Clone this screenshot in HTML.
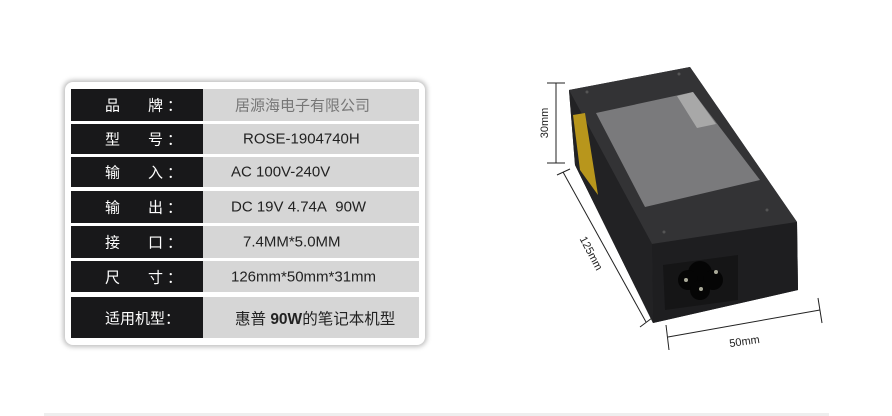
<!DOCTYPE html>
<html><head><meta charset="utf-8"><style>
body{margin:0;width:892px;height:416px;background:#fff;position:relative;overflow:hidden;font-family:"Liberation Sans","Noto Sans CJK SC",sans-serif}
.box{position:absolute;left:65px;top:82px;width:360px;height:263px;background:#fff;border-radius:8px;box-shadow:0 0 5px 2px rgba(0,0,0,.25)}
.row{position:absolute;left:71px;width:348px}
.k{position:absolute;left:0;top:0;bottom:0;width:132px;background:#18181a;color:#fff;font-size:15px}
.v{position:absolute;left:132px;right:0;top:0;bottom:0;background:#d6d6d6;color:#222;font-size:15px}
.k span,.v span{position:absolute;top:50%;transform:translateY(-50%);white-space:nowrap}
.bar{position:absolute;left:44px;top:413px;width:785px;height:3px;background:#eee}
</style></head><body>
<div class="box"></div>
<div class="row" style="top:89px;height:32px"><div class="k"><span style="left:34px">品</span><span style="left:77px">牌</span><span style="left:96px">：</span></div><div class="v"><span style="left:32px;color:#777">居源海电子有限公司</span></div></div>
<div class="row" style="top:124px;height:30px"><div class="k"><span style="left:34px">型</span><span style="left:77px">号</span><span style="left:96px">：</span></div><div class="v"><span style="left:40px">ROSE-1904740H</span></div></div>
<div class="row" style="top:157px;height:30px"><div class="k"><span style="left:34px">输</span><span style="left:77px">入</span><span style="left:96px">：</span></div><div class="v"><span style="left:28px">AC 100V-240V</span></div></div>
<div class="row" style="top:191px;height:32px"><div class="k"><span style="left:34px">输</span><span style="left:77px">出</span><span style="left:96px">：</span></div><div class="v"><span style="left:28px">DC 19V 4.74A&nbsp; 90W</span></div></div>
<div class="row" style="top:226px;height:32px"><div class="k"><span style="left:34px">接</span><span style="left:77px">口</span><span style="left:96px">：</span></div><div class="v"><span style="left:40px">7.4MM*5.0MM</span></div></div>
<div class="row" style="top:261px;height:31px"><div class="k"><span style="left:34px">尺</span><span style="left:77px">寸</span><span style="left:96px">：</span></div><div class="v"><span style="left:28px">126mm*50mm*31mm</span></div></div>
<div class="row" style="top:297px;height:41px"><div class="k"><span style="left:34px">适用机型：</span></div><div class="v"><span style="left:32px;font-size:15.5px">惠普 <b>90W</b>的笔记本机型</span></div></div>

<svg width="892" height="416" style="position:absolute;left:0;top:0">
<polygon points="569,90 690,67 797,222 798,290 653,323 575,165" fill="#2a2a2c"/>
<polygon points="569,90 690,67 797,222 652,244" fill="#333335"/>
<polygon points="569,90 652,244 653,323 575,165" fill="#222224"/>
<polygon points="652,244 797,222 798,290 653,323" fill="#1e1e20"/>
<polygon points="573,115 585,113 598,195 580,170" fill="#b8961c"/>
<polygon points="596,113 693,92 760,180 645,207" fill="#7a7a7c"/>
<polygon points="677,96 693,92 716,124 697,128" fill="#a8a8a8"/>
<polygon points="663,265 738,255 738,300 665,310" fill="#151516"/>
<circle cx="700" cy="273" r="12" fill="#050505"/><circle cx="688" cy="280" r="10" fill="#050505"/><circle cx="713" cy="280" r="10" fill="#050505"/><circle cx="700" cy="290" r="10" fill="#050505"/>
<circle cx="686" cy="280" r="2" fill="#aa9"/><circle cx="716" cy="272" r="2" fill="#aa9"/><circle cx="701" cy="289" r="2" fill="#aa9"/>
<g fill="#555"><circle cx="587" cy="92" r="1.5"/><circle cx="679" cy="74" r="1.5"/><circle cx="767" cy="210" r="1.5"/><circle cx="664" cy="232" r="1.5"/></g>
<g stroke="#222" stroke-width="1" fill="none">
<line x1="556" y1="83" x2="556" y2="163"/><line x1="547" y1="83" x2="565" y2="83"/><line x1="547" y1="163" x2="565" y2="163"/>
<line x1="563" y1="172" x2="646" y2="322"/><line x1="557" y1="175" x2="570" y2="169"/><line x1="640" y1="327" x2="652" y2="318"/>
<line x1="668" y1="337" x2="820" y2="310"/><line x1="666" y1="325" x2="669" y2="350"/><line x1="818" y1="298" x2="822" y2="323"/>
</g>
<text transform="translate(548,123) rotate(-90)" text-anchor="middle" font-size="11" fill="#222" font-family="Liberation Sans">30mm</text>
<text transform="translate(588,255) rotate(62)" text-anchor="middle" font-size="11" fill="#222" font-family="Liberation Sans">125mm</text>
<text transform="translate(745,345) rotate(-8)" text-anchor="middle" font-size="11" fill="#222" font-family="Liberation Sans">50mm</text>
</svg>
<div class="bar"></div>
</body></html>
